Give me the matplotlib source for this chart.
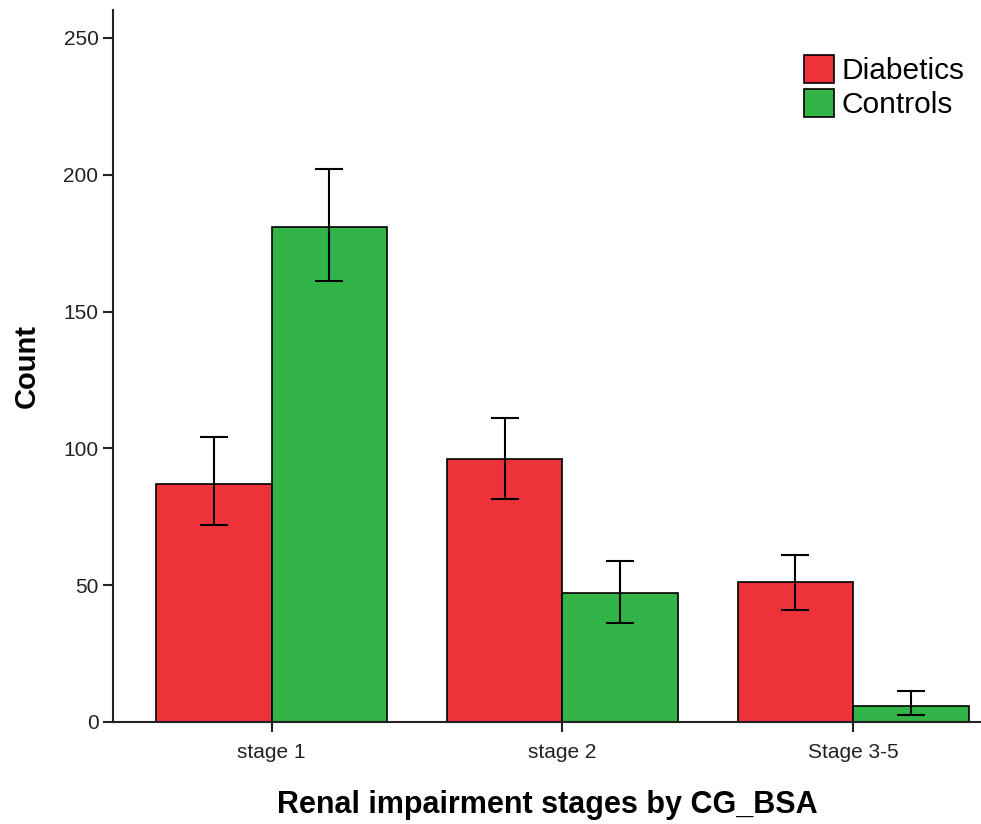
import matplotlib
matplotlib.use("Agg")
import matplotlib.pyplot as plt
import numpy as np

plt.rcParams['font.family'] = ['Liberation Sans', 'DejaVu Sans']

categories = ["stage 1", "stage 2", "Stage 3-5"]
series = ["Diabetics", "Controls"]
diabetics = [87, 96, 51]
diab_lo = [72, 81.5, 41]
diab_hi = [104, 111, 61]
controls = [181, 47, 6]
ctrl_lo = [161, 36, 2.5]
ctrl_hi = [202, 59, 11.5]
yticks = [0, 50, 100, 150, 200, 250]

fig = plt.figure(figsize=(9.81, 8.24), dpi=100)
ax = fig.add_axes([0.1152, 0.1238, 0.885, 0.8641])

x = np.arange(len(categories))
w = 0.397
red = "#EE3239"
green = "#32B448"

d = np.array(diabetics); c = np.array(controls)
derr = [d - np.array(diab_lo), np.array(diab_hi) - d]
cerr = [c - np.array(ctrl_lo), np.array(ctrl_hi) - c]

ekw = dict(elinewidth=1.5, capthick=1.5, ecolor="black")
ax.bar(x - w/2, d, w, color=red, edgecolor="black", linewidth=1.2, label=series[0],
       yerr=derr, capsize=10, error_kw=ekw, zorder=2)
ax.bar(x + w/2, c, w, color=green, edgecolor="black", linewidth=1.2, label=series[1],
       yerr=cerr, capsize=10, error_kw=ekw, zorder=2)

ax.set_xlim(-0.545, 2.44)
ax.set_ylim(0, 260.2)
ax.set_yticks(yticks)
ax.set_xticks(x)
ax.set_xticklabels(categories)
ax.tick_params(axis='both', labelsize=15, length=7, width=1.5, colors="#222222")
ax.tick_params(axis='x', pad=8)
for s in ['top', 'right']:
    ax.spines[s].set_visible(False)
for s in ['left', 'bottom']:
    ax.spines[s].set_linewidth(1.5)
    ax.spines[s].set_color("#222222")

ax.set_ylabel("Count", fontsize=21, fontweight='bold', labelpad=16)
ax.set_xlabel("Renal impairment stages by CG_BSA", fontsize=22, fontweight='bold', labelpad=20)

leg = ax.legend(loc='upper right', bbox_to_anchor=(1.012, 0.975), frameon=False,
                fontsize=21.5, handlelength=1.0, handleheight=1.1, handletextpad=0.25,
                labelspacing=0.12)

fig.savefig("out.png", dpi=100)
